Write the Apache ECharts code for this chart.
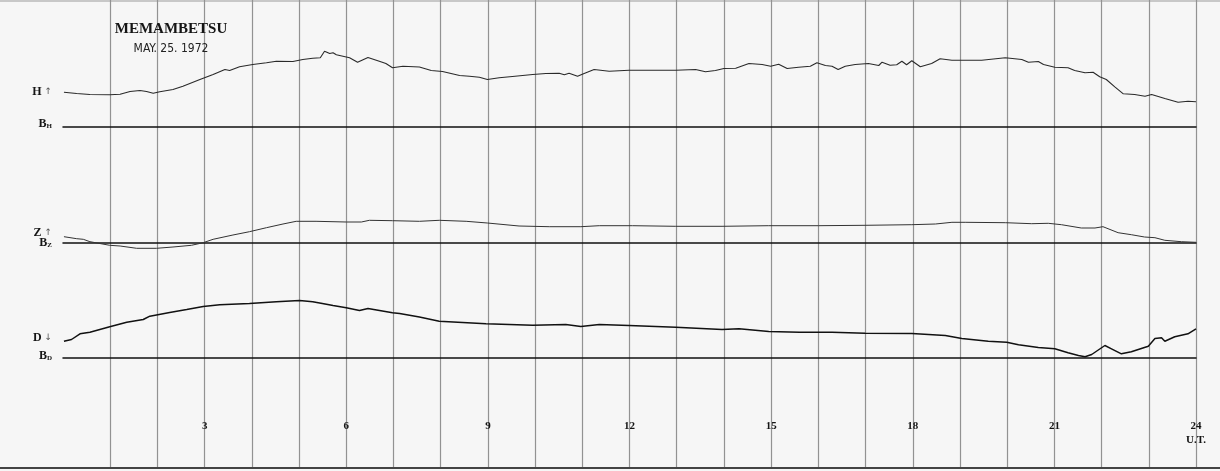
<!DOCTYPE html>
<html>
<head>
<meta charset="utf-8">
<script src="https://cdn.jsdelivr.net/npm/echarts@6/dist/echarts.min.js"></script>
<style>
  html, body { margin: 0; padding: 0; background: #f6f6f6; }
  #chart { width: 1220px; height: 471px; }
</style>
</head>
<body>
<div id="chart"></div>
<script>
// ---- data (hours UT, deflection above baseline in chart units) ----
const stationName = 'MEMAMBETSU';
const recordDate = 'MAY. 25. 1972';
const hourTickLabels = ['3', '6', '9', '12', '15', '18', '21', '24\nU.T.'];
const hourTickValues = [3, 6, 9, 12, 15, 18, 21, 24];

const hTimes = [0.02,0.29,0.57,0.99,1.21,1.42,1.63,1.77,1.91,2.05,2.33,2.54,2.90,3.18,3.43,3.53,3.74,4.02,4.31,4.52,4.87,5.08,5.29,5.45,5.54,5.65,5.72,5.79,6.07,6.24,6.46,6.70,6.84,6.98,7.20,7.55,7.80,8.04,8.40,8.61,8.82,8.99,9.24,9.52,9.95,10.23,10.51,10.62,10.72,10.90,11.00,11.25,11.57,11.99,12.48,12.98,13.40,13.61,13.82,14.00,14.25,14.53,14.81,14.99,15.16,15.34,15.58,15.83,15.97,16.15,16.29,16.42,16.57,16.78,17.06,17.28,17.35,17.52,17.66,17.77,17.87,17.98,18.16,18.40,18.58,18.83,19.46,19.96,20.31,20.45,20.66,20.77,21.01,21.29,21.43,21.65,21.82,21.96,22.10,22.28,22.46,22.70,22.92,23.06,23.34,23.62,23.83,24.0];
const hValues = [34.3,33,32,31.7,32.3,35,36,35,33.3,34.7,37,40.3,47,52,57,56,59.7,62,63.7,65.3,65,67,68.3,68.7,75.3,73,73.7,71.7,68.7,64.3,69,65.3,63,58.7,60.3,59.5,56,55,51,50.3,49.3,47,48.7,50,52,53,53.3,51.7,53.3,50.3,52.3,57,55.3,56.3,56.3,56.3,57,54.7,56,58,58.3,63,62,60.3,62.3,58,59.3,60.3,63.7,61,60.3,57,60.3,62,63,61,64.3,61.3,61.7,65.3,61.7,65.7,59.7,63,67.7,66.3,66.3,68.7,67,64.3,65,62,59.3,58.7,56,53.7,54.3,49.7,47,39.7,32.7,32,30.3,32,28,24.3,25.3,24.7];

const zTimes = [0.02,0.29,0.43,0.57,0.99,1.21,1.56,1.98,2.33,2.72,2.97,3.18,3.60,3.95,4.31,4.66,4.94,5.36,6.00,6.32,6.49,6.98,7.55,7.97,8.54,8.99,9.66,10.30,10.97,11.36,12.06,12.98,13.96,14.95,16.00,16.99,17.98,18.48,18.83,19.11,19.96,20.52,20.87,21.15,21.57,21.86,22.03,22.35,22.63,22.91,23.13,23.34,23.69,24.0];
const zValues = [6.3,4.3,3.7,1.3,-2.3,-3,-5.3,-5.3,-4,-2.3,0.3,3.7,8,11.3,15.3,19,21.7,21.7,21,21,22.7,22.3,21.7,22.7,21.7,20,17,16.3,16.3,17.3,17.3,16.7,16.7,17.3,17.3,17.7,18.3,19,20.7,20.7,20.3,19.3,19.7,18.3,15,15,16.3,10.3,8.3,6,5.3,2.7,1.3,0.7];

const dTimes = [0.02,0.18,0.36,0.57,0.99,1.35,1.70,1.84,2.26,2.62,2.97,3.32,3.95,4.52,5.01,5.29,5.58,5.72,6.00,6.28,6.46,6.98,7.13,7.55,7.97,8.96,9.95,10.65,10.97,11.36,11.99,12.98,13.96,14.32,14.95,15.60,16.29,16.99,17.98,18.69,19.04,19.60,19.99,20.24,20.66,21.01,21.29,21.51,21.65,21.79,22.07,22.21,22.42,22.63,22.99,23.13,23.27,23.34,23.55,23.83,24.0];
const dValues = [16.3,18,23.7,25.3,30.7,35.3,38,41.3,45,48,51,52.7,54,55.7,57,55.7,53.3,52,49.7,47,49,44.7,44,40.5,36.3,33.7,32.3,33,31,33,32,30.3,28,28.7,26,25.3,25.3,24.3,24,22,19,16.3,15.3,12.7,10,8.7,4.7,2,0.7,3,12,8.7,3.7,5.7,11.3,19,19.7,16.3,20.7,23.7,28.7];

// ---- chart ----
const pair = (t, v) => t.map((x, i) => [x, v[i]]);
const chart = echarts.init(document.getElementById('chart'), null, { renderer: 'canvas' });

const serifBold = { fontFamily: 'Liberation Serif', fontWeight: 'bold', color: '#151515' };
const richLabels = {
  b: Object.assign({ fontSize: 12 }, serifBold),
  s: Object.assign({ fontSize: 7, padding: [5, 0, 0, 0] }, serifBold),
  a: { fontSize: 9, color: '#555', fontFamily: 'DejaVu Sans' },
  bz: Object.assign({ fontSize: 12, lineHeight: 10 }, serifBold),
  sz: Object.assign({ fontSize: 7, lineHeight: 10, padding: [4, 0, 0, 0] }, serifBold),
  az: { fontSize: 9, lineHeight: 10, color: '#555', fontFamily: 'DejaVu Sans' }
};

const LEFT = 63, RIGHT = 24;
function traceGrid(top) { return { left: LEFT, right: RIGHT, top: top, height: 100 }; }
function traceX(idx) {
  return {
    type: 'value', gridIndex: idx, min: 0, max: 24,
    axisLine: { show: true, onZero: true, lineStyle: { color: '#111', width: 1.5 } },
    axisTick: { show: false }, axisLabel: { show: false }, splitLine: { show: false }
  };
}
function traceY(idx, labelVals, fmt) {
  return {
    type: 'value', gridIndex: idx, min: -20, max: 80,
    axisLine: { show: false }, axisTick: { show: false }, splitLine: { show: false },
    axisLabel: { show: true, customValues: labelVals, margin: 11, hideOverlap: false,
      showMinLabel: true, showMaxLabel: true, formatter: fmt, rich: richLabels }
  };
}

const option = {
  backgroundColor: '#f6f6f6',
  animation: false,
  title: {
    text: stationName,
    subtext: recordDate,
    left: 166, top: 17,
    textAlign: 'center',
    itemGap: 6,
    textStyle: { fontFamily: 'Liberation Serif', fontWeight: 'bold', fontSize: 15, color: '#151515' },
    subtextStyle: { fontFamily: 'DejaVu Sans Condensed', fontSize: 12, color: '#222' }
  },
  grid: [
    traceGrid(46.5),
    traceGrid(163),
    traceGrid(277.5),
    { left: LEFT, right: RIGHT, top: 0, bottom: 4 }
  ],
  xAxis: [
    traceX(0), traceX(1), traceX(2),
    {
      type: 'value', gridIndex: 3, min: 0, max: 24, interval: 1,
      axisLine: { show: false }, axisTick: { show: false },
      splitLine: { show: true, showMinLine: false, showMaxLine: true, lineStyle: { color: '#929292', width: 1.2 } },
      axisLabel: {
        inside: true, margin: 48, verticalAlign: 'top',
        customValues: hourTickValues,
        formatter: v => { const i = hourTickValues.indexOf(v); return i >= 0 ? hourTickLabels[i] : ''; },
        fontFamily: 'Liberation Serif', fontWeight: 'bold', fontSize: 11, lineHeight: 14, color: '#151515'
      }
    }
  ],
  yAxis: [
    traceY(0, [3, 35], v => v < 10 ? '{b|B}{s|H}' : '{b|H}{a| ↑}'),
    traceY(1, [5], () => '{bz|Z}{az| ↑}\n{bz|B}{sz|Z}'),
    traceY(2, [2, 19.5], v => v < 10 ? '{b|B}{s|D}' : '{b|D}{a| ↓}'),
    { type: 'value', gridIndex: 3, min: 0, max: 1, show: false }
  ],
  graphic: [
    { type: 'line', shape: { x1: 0, y1: 1, x2: 1220, y2: 1 }, style: { stroke: '#c8c8c8', lineWidth: 2 }, silent: true },
    { type: 'line', shape: { x1: 0, y1: 468, x2: 1220, y2: 468 }, style: { stroke: '#444', lineWidth: 2 }, silent: true }
  ],
  series: [
    { name: 'H', type: 'line', xAxisIndex: 0, yAxisIndex: 0, data: pair(hTimes, hValues),
      showSymbol: false, lineStyle: { color: '#2a2a2a', width: 1.1 } },
    { name: 'Z', type: 'line', xAxisIndex: 1, yAxisIndex: 1, data: pair(zTimes, zValues),
      showSymbol: false, lineStyle: { color: '#333', width: 1 } },
    { name: 'D', type: 'line', xAxisIndex: 2, yAxisIndex: 2, data: pair(dTimes, dValues),
      showSymbol: false, lineStyle: { color: '#111', width: 1.5 } }
  ]
};
chart.setOption(option);
</script>
</body>
</html>
